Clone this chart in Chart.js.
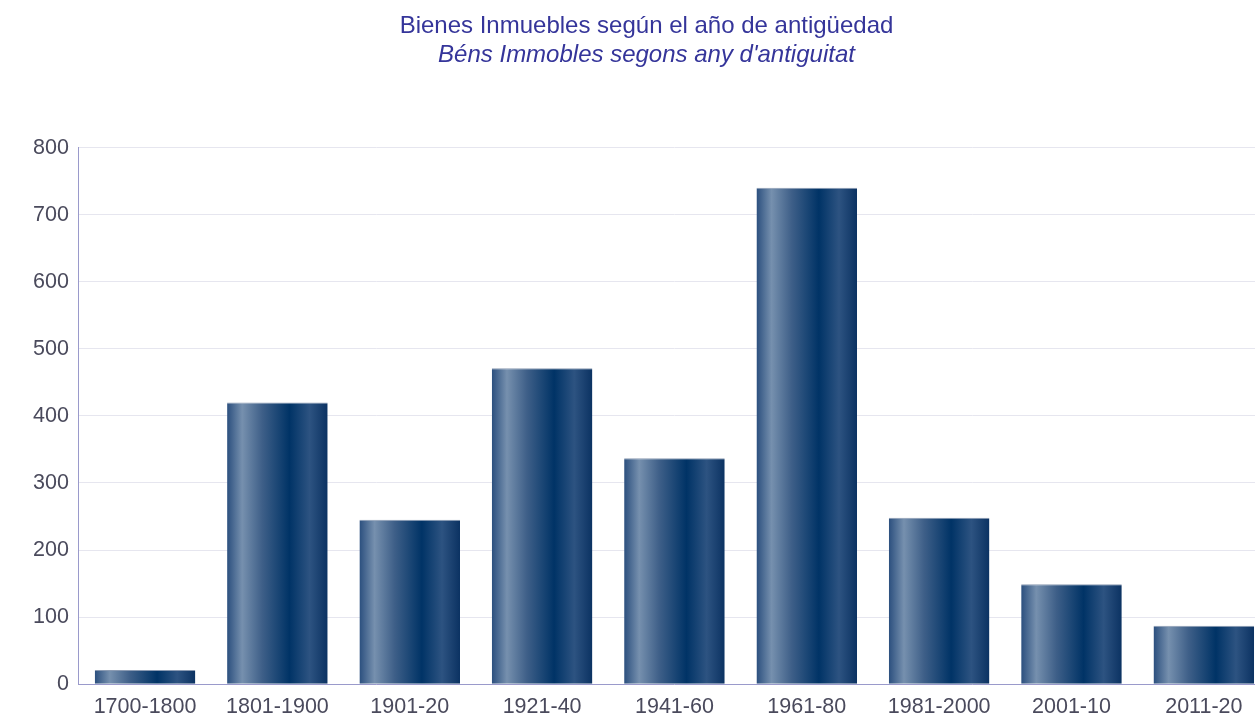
<!DOCTYPE html>
<html lang="es">
<head>
    <meta charset="UTF-8">
    <title>Bienes Inmuebles según el año de antigüedad</title>
    <script src="https://cdn.jsdelivr.net/npm/chart.js"></script>
    <style>
        html, body { margin: 0; padding: 0; background: #fff; overflow: hidden; }
        #wrap { width: 1270px; height: 730px; }
    </style>
</head>
<body>
    <div id="wrap"><canvas id="antiguedadChart"></canvas></div>
    <script>
        const periodos = ['1700-1800', '1801-1900', '1901-20', '1921-40', '1941-60', '1961-80', '1981-2000', '2001-10', '2011-20'];
        const inmuebles = [21, 420, 245, 471, 337, 740, 248, 149, 87];
        const yTicks = [0, 100, 200, 300, 400, 500, 600, 700, 800];

        const catPct = 0.76;
        const fontFam = 'Liberation Sans, Arial, sans-serif';

        // degradado horizontal de cada barra, calculado con la escala x
        function barGradient(context) {
            const chart = context.chart;
            const xs = chart.scales.x;
            if (!xs || !chart.chartArea) return '#1f4a7a';
            const cx = xs.getPixelForValue(context.dataIndex);
            const w = (xs.width / periodos.length) * catPct;
            const g = chart.ctx.createLinearGradient(cx - w / 2, 0, cx + w / 2, 0);
            g.addColorStop(0, '#2b4f7e');
            g.addColorStop(0.15, '#7690ae');
            g.addColorStop(0.35, '#3e5f88');
            g.addColorStop(0.62, '#003366');
            g.addColorStop(0.82, '#2d5381');
            g.addColorStop(1, '#0b3262');
            return g;
        }

        new Chart(document.getElementById('antiguedadChart'), {
            type: 'bar',
            data: {
                labels: periodos,
                datasets: [{
                    data: inmuebles,
                    backgroundColor: barGradient,
                    borderColor: '#8a9ab2',
                    borderWidth: { top: 1, left: 0, right: 0, bottom: 0 },
                    borderSkipped: false,
                    categoryPercentage: catPct,
                    barPercentage: 1
                }]
            },
            options: {
                responsive: true,
                maintainAspectRatio: false,
                animation: false,
                layout: { padding: { left: 23, right: 0, top: 0, bottom: 0 } },
                plugins: {
                    legend: { display: false },
                    tooltip: { enabled: false },
                    title: {
                        display: true,
                        text: 'Bienes Inmuebles según el año de antigüedad',
                        color: '#35359a',
                        font: { family: fontFam, size: 24, weight: 'normal' },
                        padding: { top: 12, bottom: 0 }
                    },
                    subtitle: {
                        display: true,
                        text: "Béns Immobles segons any d'antiguitat",
                        color: '#35359a',
                        font: { family: fontFam, size: 24, style: 'italic' },
                        padding: { top: 0, bottom: 78 }
                    }
                },
                scales: {
                    x: {
                        grid: { display: false, drawTicks: false },
                        border: { color: '#9a9acb', width: 1 },
                        ticks: {
                            color: '#4a4a5c',
                            font: { family: fontFam, size: 21.5 },
                            padding: 10,
                            maxRotation: 0
                        }
                    },
                    y: {
                        min: 0,
                        max: 800,
                        afterBuildTicks: scale => { scale.ticks = yTicks.map(v => ({ value: v })); },
                        grid: { color: '#e6e6ef', drawTicks: false },
                        border: { color: '#9a9acb', width: 1 },
                        ticks: {
                            color: '#4a4a5c',
                            font: { family: fontFam, size: 21.5 },
                            padding: 10
                        }
                    }
                }
            }
        });
    </script>
</body>
</html>
